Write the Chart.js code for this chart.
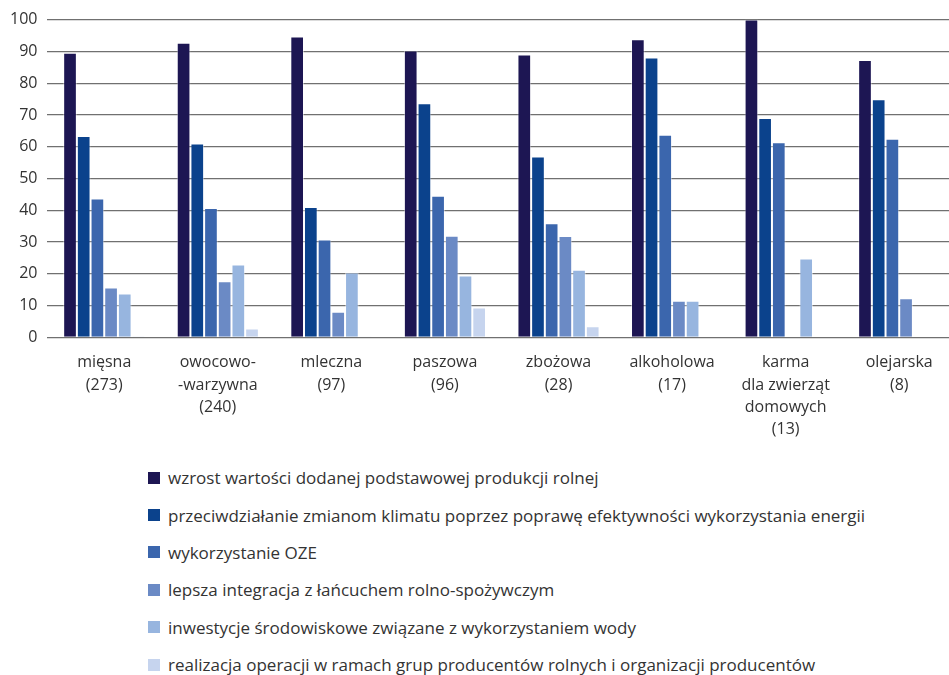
<!DOCTYPE html>
<html lang="pl">
<head>
<meta charset="utf-8">
<script src="https://cdn.jsdelivr.net/npm/chart.js@4"></script>
<style>
  html, body { margin: 0; padding: 0; background: #fff; overflow: hidden; }
  body { width: 949px; height: 675px; position: relative; font-family: "Open Sans", sans-serif; }
  #chart-box { position: absolute; left: 0; top: 0; width: 956px; height: 447px; }
  #legend { position: absolute; left: 148px; top: 459px; margin: 0; padding: 0; list-style: none; }
  #legend li { height: 37.4px; display: flex; align-items: center; font-size: 17px; color: #333; white-space: nowrap; }
  #legend .box { width: 12px; height: 12px; margin-right: 8px; flex: none; }
</style>
</head>
<body>
<div id="chart-box"><canvas id="chart"></canvas></div>
<ul id="legend"></ul>
<script>
// branches with number of projects in brackets
var categories = [
    ["mięsna", "(273)"],
    ["owocowo-", "-warzywna", "(240)"],
    ["mleczna", "(97)"],
    ["paszowa", "(96)"],
    ["zbożowa", "(28)"],
    ["alkoholowa", "(17)"],
    ["karma", "dla zwierząt", "domowych", "(13)"],
    ["olejarska", "(8)"]
];

var seriesNames = [
    "wzrost wartości dodanej podstawowej produkcji rolnej",
    "przeciwdziałanie zmianom klimatu poprzez poprawę efektywności wykorzystania energii",
    "wykorzystanie OZE",
    "lepsza integracja z łańcuchem rolno-spożywczym",
    "inwestycje środowiskowe związane z wykorzystaniem wody",
    "realizacja operacji w ramach grup producentów rolnych i organizacji producentów"
];

var wzrostWartosci   = [89.6, 92.7, 94.7, 90.3, 89.0, 93.8, 100, 87.3];
var klimatEnergia    = [63.4, 61.0, 41.0, 73.7, 56.9, 88.1, 69.0, 74.9];
var oze              = [43.7, 40.7, 30.8, 44.6, 35.9, 63.8, 61.4, 62.5];
var integracja       = [15.7, 17.7, 8.1, 32.0, 31.9, 11.5, 0, 12.3];
var woda             = [13.8, 22.9, 20.4, 19.5, 21.3, 11.5, 24.8, 0];
var grupyProducentow = [0.4, 2.8, 0.3, 9.4, 3.5, 0, 0, 0];

var yTicks = [0, 10, 20, 30, 40, 50, 60, 70, 80, 90, 100];

var seriesValues = [wzrostWartosci, klimatEnergia, oze, integracja, woda, grupyProducentow];
var seriesColors = ['#1d1653', '#0b428c', '#3b66ad', '#6b8ac5', '#97b5df', '#c6d4ee'];

var datasets = seriesValues.map(function (values, i) {
    return {
        label: seriesNames[i],
        data: values,
        backgroundColor: seriesColors[i],
        borderColor: 'rgba(255, 255, 255, 0.45)',
        borderWidth: 1,
        categoryPercentage: 0.723,
        barPercentage: 1
    };
});

var chart = new Chart(document.getElementById('chart'), {
    type: 'bar',
    data: { labels: categories, datasets: datasets },
    options: {
        responsive: true,
        maintainAspectRatio: false,
        animation: false,
        layout: { padding: { top: 2, right: 0, bottom: 0, left: 0 } },
        plugins: {
            legend: { display: false },
            tooltip: { enabled: false }
        },
        scales: {
            x: {
                grid: { display: false },
                border: { display: false },
                ticks: {
                    autoSkip: false,
                    maxRotation: 0,
                    padding: 6,
                    color: '#333',
                    font: { family: 'Open Sans', size: 16, lineHeight: 1.4 }
                }
            },
            y: {
                min: 0,
                max: 100,
                afterBuildTicks: function (axis) {
                    axis.ticks = yTicks.map(function (v) { return { value: v }; });
                },
                grid: { color: '#707070', lineWidth: 1.3, drawTicks: false },
                border: { display: false },
                ticks: {
                    padding: 10,
                    color: '#333',
                    font: { family: 'Open Sans', size: 16 }
                }
            }
        }
    }
});

// legend list built from the chart datasets
var legendEl = document.getElementById('legend');
chart.data.datasets.forEach(function (ds) {
    var li = document.createElement('li');
    var box = document.createElement('span');
    box.className = 'box';
    box.style.background = ds.backgroundColor;
    var txt = document.createElement('span');
    txt.textContent = ds.label;
    li.appendChild(box);
    li.appendChild(txt);
    legendEl.appendChild(li);
});
</script>
</body>
</html>
